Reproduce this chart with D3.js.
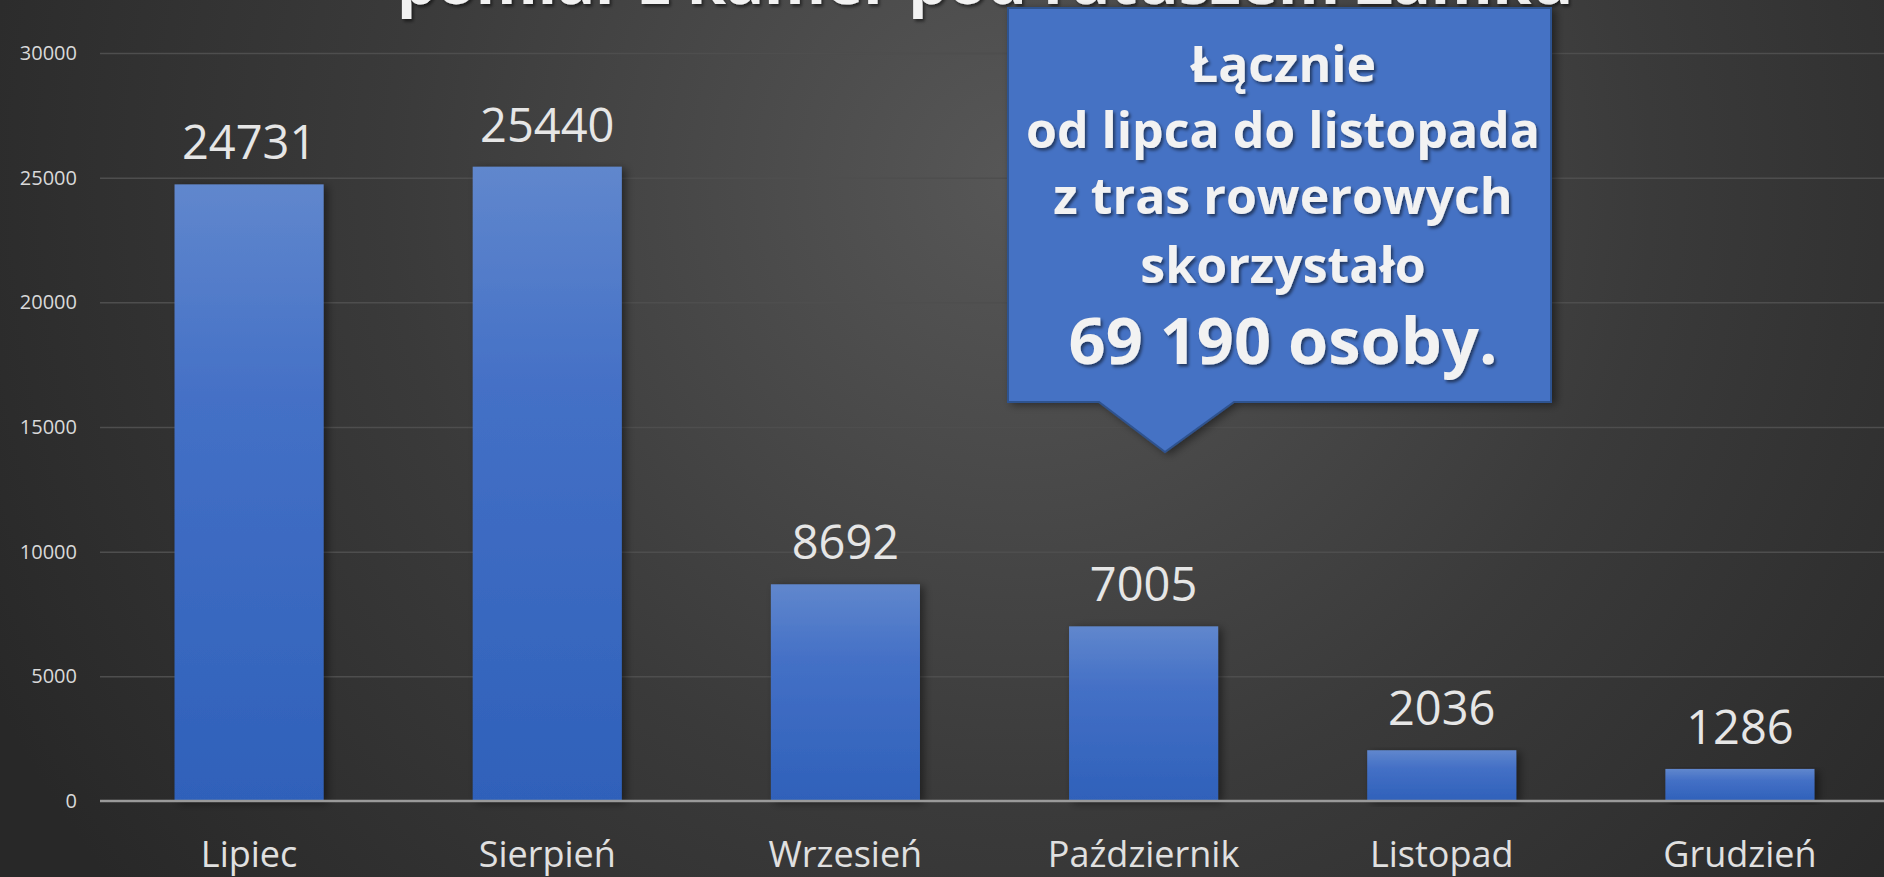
<!DOCTYPE html>
<html>
<head>
<meta charset="utf-8">
<script src="https://cdn.jsdelivr.net/npm/d3@7"></script>
<style>
  html, body { margin: 0; padding: 0; background: #2b2b2b; overflow: hidden; }
  svg { display: block; }
</style>
</head>
<body>
<script>
var width = 1884;
var height = 877;

var months = ["Lipiec", "Sierpień", "Wrzesień", "Październik", "Listopad", "Grudzień"];
var riders = [24731, 25440, 8692, 7005, 2036, 1286];
var yTicks = [0, 5000, 10000, 15000, 20000, 25000, 30000];
var titleText = "pomiar z kamer pod ratuszem Zamku";
var calloutLines = ["Łącznie", "od lipca do listopada", "z tras rowerowych", "skorzystało"];
var calloutTotal = "69 190 osoby.";

var svg = d3.select("body").append("svg").attr("width", width).attr("height", height);
var defs = svg.append("defs");

// background glow
var bg = defs.append("radialGradient").attr("id", "bg")
    .attr("gradientUnits", "userSpaceOnUse")
    .attr("cx", 1020).attr("cy", 180).attr("r", 1150);
bg.append("stop").attr("offset", "0%").attr("stop-color", "#575757");
bg.append("stop").attr("offset", "55%").attr("stop-color", "#3a3a3a");
bg.append("stop").attr("offset", "100%").attr("stop-color", "#282828");

// bar fill, lighter at the top
var barGrad = defs.append("linearGradient").attr("id", "barGrad")
    .attr("x1", 0).attr("y1", 0).attr("x2", 0).attr("y2", 1);
barGrad.append("stop").attr("offset", "0%").attr("stop-color", "#6087cd");
barGrad.append("stop").attr("offset", "35%").attr("stop-color", "#4470c6");
barGrad.append("stop").attr("offset", "100%").attr("stop-color", "#2f61ba");

var shadow = defs.append("filter").attr("id", "barShadow")
    .attr("x", "-20%").attr("y", "-5%").attr("width", "150%").attr("height", "115%");
shadow.append("feDropShadow").attr("dx", 4).attr("dy", 2).attr("stdDeviation", 4)
    .attr("flood-color", "#000").attr("flood-opacity", 0.45);

var txtShadow = defs.append("filter").attr("id", "txtShadow")
    .attr("x", "-10%").attr("y", "-20%").attr("width", "120%").attr("height", "150%");
txtShadow.append("feDropShadow").attr("dx", 2).attr("dy", 2.5).attr("stdDeviation", 1.5)
    .attr("flood-color", "#000").attr("flood-opacity", 0.5);

svg.append("rect").attr("width", width).attr("height", height).attr("fill", "url(#bg)");

var x = d3.scaleBand().domain(months).range([100, 1889]).paddingInner(0.5).paddingOuter(0.25);
var y = d3.scaleLinear().domain([0, 30000]).range([801, 53]);

// gridlines + y labels
var yAxis = d3.axisLeft(y).tickValues(yTicks).tickSize(-(width - 100)).tickPadding(23).tickFormat(d3.format("d"));
var gy = svg.append("g").attr("transform", "translate(100,0)").call(yAxis);
gy.select(".domain").remove();
gy.selectAll(".tick line").attr("stroke", "#4e4e4e").attr("stroke-width", 1.5);
gy.selectAll(".tick text")
    .attr("fill", "#d9d9d9")
    .style("font-family", "'Open Sans', sans-serif")
    .style("font-size", "20px");
gy.selectAll(".tick").filter(function (d) { return d === 0; }).select("line").remove();

// title (mostly off the top of the picture)
svg.append("text")
    .attr("x", 985).attr("y", 4)
    .attr("text-anchor", "middle")
    .attr("fill", "#f2f2f2")
    .attr("filter", "url(#txtShadow)")
    .style("font-family", "'Open Sans', sans-serif")
    .style("font-weight", "bold")
    .style("font-size", "63px")
    .text(titleText);

// bars
svg.selectAll("rect.bar").data(riders).enter().append("rect")
    .attr("class", "bar")
    .attr("x", function (d, i) { return x(months[i]); })
    .attr("y", function (d) { return y(d); })
    .attr("width", x.bandwidth())
    .attr("height", function (d) { return y(0) - y(d); })
    .attr("fill", "url(#barGrad)")
    .attr("filter", "url(#barShadow)");

// zero line
svg.append("line")
    .attr("x1", 100).attr("x2", width)
    .attr("y1", y(0)).attr("y2", y(0))
    .attr("stroke", "#9a9a9a").attr("stroke-width", 2.5);

// value labels
svg.selectAll("text.val").data(riders).enter().append("text")
    .attr("class", "val")
    .attr("x", function (d, i) { return x(months[i]) + x.bandwidth() / 2; })
    .attr("y", function (d) { return y(d) - 25; })
    .attr("text-anchor", "middle")
    .attr("fill", "#e6e6e6")
    .style("font-family", "'Open Sans', sans-serif")
    .style("font-size", "47px")
    .text(function (d) { return d; });

// category labels
var xAxis = d3.axisBottom(x).tickSize(0).tickPadding(0);
var gx = svg.append("g").attr("transform", "translate(0," + y(0) + ")").call(xAxis);
gx.select(".domain").remove();
gx.selectAll(".tick text")
    .attr("dy", 0).attr("y", 66)
    .attr("fill", "#e0e0e0")
    .style("font-family", "'Open Sans', sans-serif")
    .style("font-size", "36px");

// callout box
var callout = svg.append("g");
var bx0 = 1008, bx1 = 1551, by0 = 8, by1 = 402;
callout.append("path")
    .attr("d", "M" + bx0 + "," + by0 + "H" + bx1 + "V" + by1 + "H1234L1165,452L1099," + by1 + "H" + bx0 + "Z")
    .attr("fill", "#4472c4")
    .attr("stroke", "#2f528f")
    .attr("stroke-width", 2)
    .attr("filter", "url(#barShadow)");

var cx = 1283;
var lineY = [82, 148, 214, 283];
callout.selectAll("text.cl").data(calloutLines).enter().append("text")
    .attr("class", "cl")
    .attr("x", cx)
    .attr("y", function (d, i) { return lineY[i]; })
    .attr("text-anchor", "middle")
    .attr("fill", "#f2f2f2")
    .attr("filter", "url(#txtShadow)")
    .style("font-family", "'Open Sans', sans-serif")
    .style("font-weight", "bold")
    .style("font-size", "50px")
    .text(function (d) { return d; });

callout.append("text")
    .attr("x", cx)
    .attr("y", 364)
    .attr("text-anchor", "middle")
    .attr("fill", "#f2f2f2")
    .attr("filter", "url(#txtShadow)")
    .style("font-family", "'Open Sans', sans-serif")
    .style("font-weight", "bold")
    .style("font-size", "65px")
    .text(calloutTotal);
</script>
</body>
</html>
